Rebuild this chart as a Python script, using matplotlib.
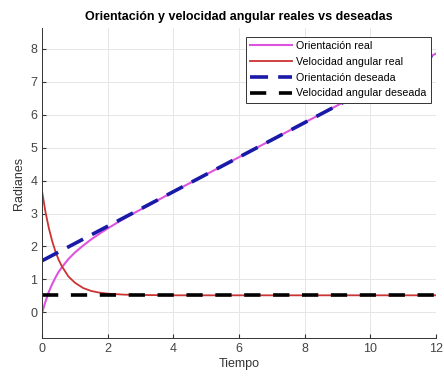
import numpy as np
import matplotlib.pyplot as plt

plt.rcParams['font.family'] = ['Liberation Sans', 'DejaVu Sans']

# datos
t_real = [0, 0.1, 0.2, 0.3, 0.4, 0.5, 0.6, 0.8, 1.0, 1.25, 1.5, 1.75, 2.0, 2.5, 3, 4, 6, 8, 10, 12]
orient_real = [0, 0.33, 0.62, 0.85, 1.05, 1.23, 1.37, 1.62, 1.82, 2.03, 2.22, 2.39, 2.55, 2.85, 3.12, 3.66, 4.71, 5.76, 6.80, 7.85]
vel_real = [3.65, 3.05, 2.57, 2.18, 1.86, 1.60, 1.40, 1.09, 0.90, 0.74, 0.65, 0.60, 0.57, 0.54, 0.53, 0.52, 0.52, 0.52, 0.52, 0.52]
t_des = [0, 12]
orient_des = [1.57, 7.85]
vel_des = [0.52, 0.52]

fig = plt.figure(figsize=(4.44, 3.8), dpi=100)
ax = fig.add_axes([0.095, 0.11, 0.887, 0.816])

ax.plot(t_real, orient_real, color='#dd55dd', lw=1.5, label='Orientación real')
ax.plot(t_real, vel_real, color='#cc3333', lw=1.3, label='Velocidad angular real')
ax.plot(t_des, orient_des, color='#1a1aa8', lw=2.6, dashes=(5, 2.8), label='Orientación deseada')
ax.plot(t_des, vel_des, color='black', lw=2.6, dashes=(4.5, 3.5), label='Velocidad angular deseada')

ax.set_xlim(0, 12)
ax.set_ylim(-0.78, 8.62)
ax.set_xticks(range(0, 13, 2))
ax.set_yticks(range(0, 9))
ax.grid(True, color='#e6e6e6', lw=0.7)
ax.set_axisbelow(True)
for s in ['top', 'right']:
    ax.spines[s].set_visible(False)
for s in ['left', 'bottom']:
    ax.spines[s].set_color('#333333')
    ax.spines[s].set_linewidth(0.7)
ax.tick_params(direction='in', length=3, labelsize=9, colors='#333333', labelcolor='#444444')

ax.set_title('Orientación y velocidad angular reales vs deseadas', fontsize=9, fontweight='bold', pad=6)
ax.set_xlabel('Tiempo', fontsize=9, color='#333333', labelpad=2)
ax.set_ylabel('Radianes', fontsize=9, color='#333333', labelpad=4)

leg = ax.legend(loc='upper right', fontsize=7.7, fancybox=False, framealpha=1,
                edgecolor='#333333', borderpad=0.4, labelspacing=0.55,
                handlelength=3.9, handletextpad=0.4, bbox_to_anchor=(1.0, 0.99))
leg.get_frame().set_linewidth(0.7)

plt.savefig('out.png', dpi=100)
